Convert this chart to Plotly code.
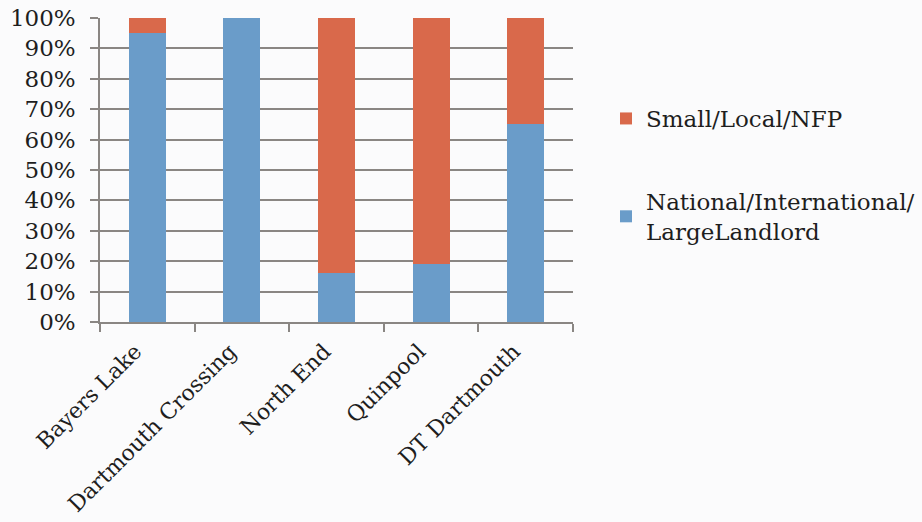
import plotly.graph_objects as go

# Share of commercial space by ownership type, per area
areas = ["Bayers Lake", "Dartmouth Crossing", "North End", "Quinpool", "DT Dartmouth"]
national_pct = [95, 100, 16, 19, 65]
local_pct = [5, 0, 84, 81, 35]

FONT = "DejaVu Serif"
GRID = "#8a8683"
INK = "#1e1e1e"

fig = go.Figure()
fig.add_trace(go.Bar(
    x=areas, y=national_pct, name="National/International/<br>LargeLandlord",
    marker=dict(color="#6a9cc9", line=dict(width=0)),
    legendgroup="national", legendrank=2,
))
fig.add_trace(go.Bar(
    x=areas, y=local_pct, name="Small/Local/NFP",
    marker=dict(color="#d9694b", line=dict(width=0)),
    legendgroup="local", legendrank=1,
))

fig.update_layout(
    barmode="stack",
    bargap=0.61,
    width=922, height=522,
    margin=dict(l=100, r=349, t=18, b=200),
    paper_bgcolor="#fbfbfc",
    plot_bgcolor="#fbfbfc",
    font=dict(family=FONT, size=22, color=INK),
    showlegend=True,
    legend=dict(
        traceorder="grouped",
        tracegroupgap=50,
        xref="container", yref="container",
        x=606 / 922, y=1 - 97 / 522, xanchor="left", yanchor="top",
        bgcolor="rgba(0,0,0,0)",
        font=dict(family=FONT, size=23, color=INK),
        itemwidth=30,
    ),
)
fig.update_yaxes(
    range=[0, 100], tickvals=list(range(0, 101, 10)),
    ticktext=[f"{v}%" for v in range(0, 101, 10)],
    showgrid=True, gridcolor=GRID, gridwidth=1.5,
    showline=True, linecolor=GRID, linewidth=1.5,
    ticks="outside", ticklen=8, tickcolor=GRID, tickwidth=1.5,
    zeroline=False, ticklabelstandoff=10, automargin=False,
    tickfont=dict(size=23),
)
fig.update_xaxes(
    tickangle=-45, tickson="boundaries",
    showline=True, linecolor=GRID, linewidth=1.5,
    ticks="outside", ticklen=8, tickcolor=GRID, tickwidth=1.5,
    showgrid=False, ticklabelshift=-12, ticklabelstandoff=6,
    automargin=False,
)

fig.write_html("out.html")
